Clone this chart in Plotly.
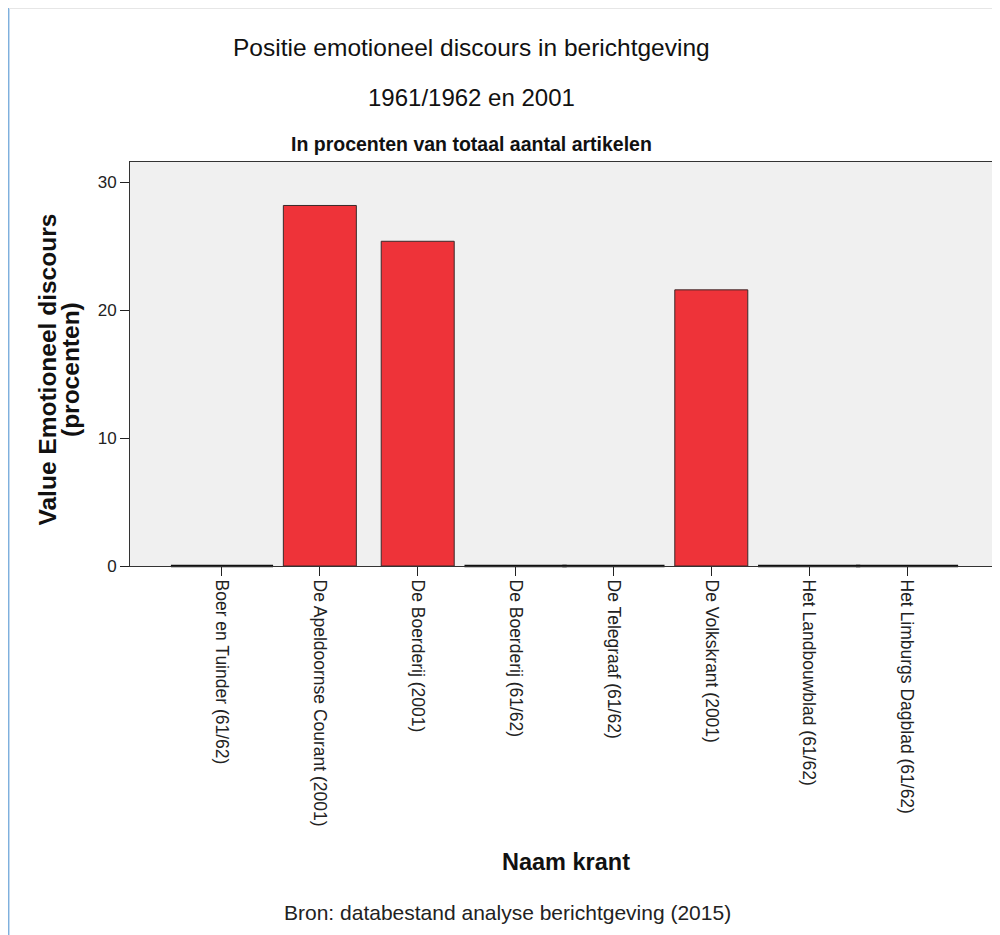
import plotly.graph_objects as go

categories = [
    "Boer en Tuinder (61/62)",
    "De Apeldoornse Courant (2001)",
    "De Boerderij (2001)",
    "De Boerderij (61/62)",
    "De Telegraaf (61/62)",
    "De Volkskrant (2001)",
    "Het Landbouwblad (61/62)",
    "Het Limburgs Dagblad (61/62)",
]
values = [0, 28.2, 25.4, 0, 0, 21.6, 0, 0]
y_ticks = [0, 10, 20, 30]

# page body has an 8px margin; positions below are in reference-pixel terms
OFF = 8
W, H = 992, 927
L, R, T, B = 130 - OFF, 999 - OFF, 162 - OFF, 566 - OFF


def px(x):
    return (x - OFF - L) / (R - L)


def py(y):
    return (B - (y - OFF)) / (B - T)


zero_cats = [c for c, v in zip(categories, values) if v == 0]
zero_vals = [v for v in values if v == 0]

fig = go.Figure()
fig.add_trace(go.Bar(
    x=categories, y=values, width=0.746,
    marker=dict(color="#ee3339", line=dict(color="#3a2a2a", width=1)),
    hoverinfo="x+y",
))
fig.add_trace(go.Scatter(
    x=zero_cats, y=zero_vals, mode="markers",
    marker=dict(symbol="line-ew", size=73, line=dict(color="#111111", width=2.5)),
    cliponaxis=False, hoverinfo="skip",
))

font_main = "Arial, Liberation Sans, sans-serif"


def ann(text, x, y, size, angle=0, color="#111111"):
    return dict(text=text, x=px(x), y=py(y), xref="paper", yref="paper",
                showarrow=False, xanchor="center", yanchor="middle",
                textangle=angle, font=dict(size=size, color=color, family=font_main))


fig.update_layout(
    width=W, height=H,
    margin=dict(l=L, r=W - R, t=T, b=H - B, pad=0),
    paper_bgcolor="white",
    plot_bgcolor="#f0f0f0",
    showlegend=False,
    font=dict(family=font_main, color="#222222"),
    xaxis=dict(
        range=[-0.94, 7.94], type="category",
        showline=True, linecolor="#333333", linewidth=1, mirror=True,
        ticks="outside", ticklen=9, tickcolor="#222222", tickwidth=1,
        tickangle=90, tickfont=dict(size=17.5, color="#222222", family=font_main),
        showgrid=False, zeroline=False, fixedrange=True,
    ),
    yaxis=dict(
        range=[0, 31.6], tickvals=y_ticks,
        showline=True, linecolor="#333333", linewidth=1, mirror=True,
        ticks="outside", ticklen=9, tickcolor="#222222", tickwidth=1,
        tickfont=dict(size=17, color="#222222", family=font_main),
        showgrid=False, zeroline=False, fixedrange=True,
    ),
    annotations=[
        ann("Positie emotioneel discours in berichtgeving", 471, 48, 24.5),
        ann("1961/1962 en 2001", 471, 97, 24),
        ann("<b>In procenten van totaal aantal artikelen</b>", 471, 143.5, 19.5),
        ann("<b>Value Emotioneel discours</b>", 46.5, 370, 24.5, angle=-90),
        ann("<b>(procenten)</b>", 70, 370, 24.5, angle=-90),
        ann("<b>Naam krant</b>", 566, 862, 23.5),
        ann("Bron: databestand analyse berichtgeving (2015)", 507, 912, 21, color="#222222"),
    ],
    shapes=[
        dict(type="line", xref="paper", yref="paper", x0=px(8.7), x1=px(8.7), y0=py(0), y1=py(940),
             line=dict(color="#7fb0dd", width=1.5)),
        dict(type="line", xref="paper", yref="paper", x0=px(9), x1=px(1000), y0=py(8.5), y1=py(8.5),
             line=dict(color="#e6e6e6", width=1)),
    ],
)

fig.write_html("out.html")
